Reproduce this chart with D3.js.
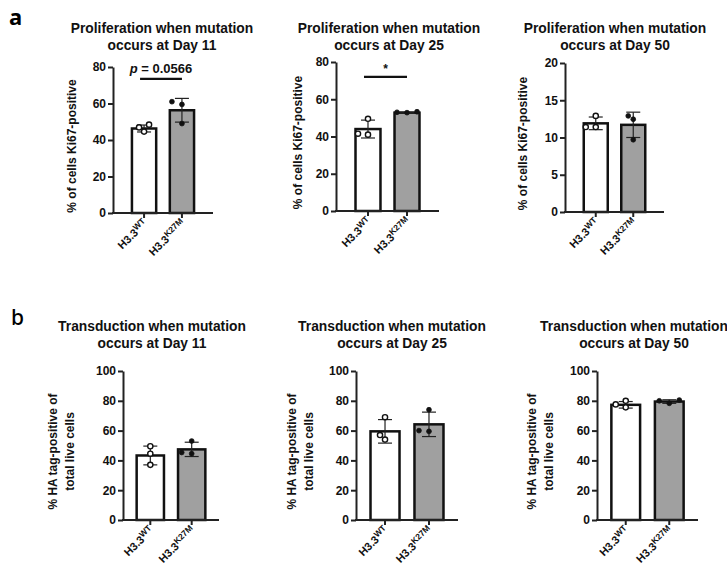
<!DOCTYPE html>
<html>
<head>
<meta charset="utf-8">
<script src="https://cdn.jsdelivr.net/npm/d3@7"></script>
<style>
  body { margin: 0; background: #ffffff; }
  svg { display: block; font-family: "Liberation Sans", Arial, sans-serif; }
</style>
</head>
<body>
<div id="chart"></div>
<script>
// ---- data ----
const groups = ['WT', 'K27M'];
const days = ['Day 11', 'Day 25', 'Day 50'];

// row a: proliferation (% of cells Ki67-positive)
const prolifMax = [80, 80, 20];
const prolifStep = [20, 20, 5];
const prolifMean = [[46.3, 56.3], [44.0, 52.8], [11.9, 11.7]];
const prolifSD = [[1.9, 6.5], [4.8, 0.3], [0.85, 1.7]];
const prolifPoints = [
  [[48.4, 46.9, 44.6], [61.0, 59.5, 49.0]],
  [[49.5, 41.0, 41.5], [53.0, 53.3, 52.8]],
  [[12.9, 11.4, 11.4], [12.9, 12.45, 9.7]]
];
const prolifSigLevel = [73.5, 72, null];
const prolifSigLabel = ['p = 0.0566', '*', null];

// row b: transduction (% HA tag-positive of total live cells)
const transMax = [100, 100, 100];
const transStep = [20, 20, 20];
const transMean = [[43.3, 47.4], [59.5, 64.2], [77.3, 79.5]];
const transSD = [[6.3, 4.8], [7.9, 8.2], [2.2, 1.2]];
const transPoints = [
  [[49.5, 44.5, 37.0], [53.0, 44.5, 45.3]],
  [[69.0, 54.0, 57.0], [74.0, 59.5, 60.0]],
  [[80.0, 75.6, 77.6], [80.5, 80.0, 78.3]]
];

// ---- layout (pixels) ----
const W = 727, H = 569;
const rowA = [
  { x0: 113, x1: 213, yTop: 67, y0: 213, labelX: 72, titleX: 162 },
  { x0: 336, x1: 439, yTop: 62, y0: 211, labelX: 298, titleX: 389 },
  { x0: 565, x1: 664, yTop: 63, y0: 212, labelX: 523, titleX: 615 }
];
const rowB = [
  { x0: 123, x1: 219, yTop: 371, y0: 520, labelX: 61, titleX: 152 },
  { x0: 356, x1: 458, yTop: 371, y0: 520, labelX: 300, titleX: 392 },
  { x0: 597, x1: 698, yTop: 371, y0: 520, labelX: 540, titleX: 634 }
];

const svg = d3.select('#chart').append('svg')
  .attr('width', W).attr('height', H);

// panel letters
svg.append('text').attr('x', 9).attr('y', 25)
  .attr('font-family', 'Noto Sans, sans-serif').attr('font-size', 22).attr('font-weight', 700)
  .text('a');
svg.append('text').attr('x', 11).attr('y', 325)
  .attr('font-family', 'Noto Sans, sans-serif').attr('font-size', 21).attr('font-weight', 500)
  .text('b');

function drawPanel(cfg) {
  const { lay, max, step, means, sds, points, title, titleY, labelLines, pad, sig } = cfg;

  const x = d3.scaleBand().domain(groups)
    .range([lay.x0, lay.x1]).paddingInner(pad[0]).paddingOuter(pad[1]);
  const y = d3.scaleLinear().domain([0, max]).range([lay.y0, lay.yTop]);
  const g = svg.append('g');

  // title
  title.forEach((t, i) => {
    g.append('text').attr('x', lay.titleX).attr('y', titleY + i * 17)
      .attr('text-anchor', 'middle').attr('font-size', 13.8).attr('font-weight', 700)
      .attr('fill', '#111').text(t);
  });

  // y label
  const midY = (lay.y0 + lay.yTop) / 2 + 6;
  labelLines.forEach((t, i) => {
    const lx = lay.labelX + (i - (labelLines.length - 1) / 2) * 17;
    g.append('text')
      .attr('transform', `translate(${lx},${midY}) rotate(-90)`)
      .attr('dy', '0.35em')
      .attr('text-anchor', 'middle').attr('font-size', 12).attr('font-weight', 700)
      .attr('fill', '#111').text(t);
  });

  // bars
  g.selectAll('rect.bar').data(groups).enter().append('rect')
    .attr('x', d => x(d)).attr('width', x.bandwidth())
    .attr('y', (d, i) => y(means[i]))
    .attr('height', (d, i) => lay.y0 - y(means[i]))
    .attr('fill', (d, i) => i === 0 ? '#ffffff' : '#a0a0a0')
    .attr('stroke', '#111').attr('stroke-width', 2.5);

  // error bars (mean +/- SD)
  groups.forEach((gname, i) => {
    const cx = x(gname) + x.bandwidth() / 2;
    const lo = y(means[i] - sds[i]), hi = y(means[i] + sds[i]);
    g.append('line').attr('x1', cx).attr('x2', cx).attr('y1', lo).attr('y2', hi)
      .attr('stroke', '#222').attr('stroke-width', 1.2);
    [lo, hi].forEach(v => {
      g.append('line').attr('x1', cx - 7).attr('x2', cx + 7).attr('y1', v).attr('y2', v)
        .attr('stroke', '#222').attr('stroke-width', 1.2);
    });
  });

  // individual points, spread sideways when they overlap
  groups.forEach((gname, i) => {
    const cx = x(gname) + x.bandwidth() / 2;
    const placed = [];
    const order = points[i].map((v, k) => k).sort((a, b) => points[i][a] - points[i][b]);
    order.forEach(k => {
      const py = y(points[i][k]);
      const cands = [0, -5, 5, -10, 10];
      let ox = 0;
      for (const c of cands) {
        if (placed.every(p => Math.hypot(p[0] - c, p[1] - py) >= 6)) { ox = c; break; }
      }
      placed.push([ox, py]);
    });
    g.selectAll(null).data(placed).enter().append('circle')
      .attr('cx', d => cx + d[0]).attr('cy', d => d[1])
      .attr('r', i === 0 ? 2.6 : 2.4)
      .attr('fill', i === 0 ? '#ffffff' : '#111')
      .attr('stroke', '#111').attr('stroke-width', i === 0 ? 1.4 : 0.8);
  });

  // y axis
  const yAxis = d3.axisLeft(y).tickValues(d3.range(0, max + 1, step))
    .tickSize(5).tickSizeOuter(0).tickPadding(2);
  const ya = g.append('g').attr('transform', `translate(${lay.x0},0)`).call(yAxis);
  ya.select('.domain').attr('stroke', '#222').attr('stroke-width', 2);
  ya.selectAll('.tick line').attr('stroke', '#222').attr('stroke-width', 2);
  ya.selectAll('.tick text').attr('font-size', 12).attr('font-weight', 700)
    .attr('fill', '#111').attr('font-family', 'Liberation Sans, Arial, sans-serif');

  // x axis
  const xAxis = d3.axisBottom(x).tickSize(5).tickSizeOuter(0).tickFormat('');
  const xa = g.append('g').attr('transform', `translate(0,${lay.y0})`).call(xAxis);
  xa.select('.domain').attr('stroke', '#222').attr('stroke-width', 2)
    .attr('d', `M${lay.x0 - 1},0H${lay.x1}`);
  xa.selectAll('.tick line').attr('stroke', '#222').attr('stroke-width', 2);

  // rotated group labels with superscript
  groups.forEach(gname => {
    const cx = x(gname) + x.bandwidth() / 2;
    const t = g.append('text')
      .attr('transform', `translate(${cx + 4},${lay.y0 + 11}) rotate(-45)`)
      .attr('text-anchor', 'end').attr('font-size', 11).attr('font-weight', 700)
      .attr('fill', '#111');
    t.append('tspan').text('H3.3');
    t.append('tspan').attr('font-size', 8.5).attr('dy', -3.5).text(gname);
  });

  // significance bracket
  if (sig && sig.level != null) {
    const c1 = x(groups[0]) + x.bandwidth() / 2, c2 = x(groups[1]) + x.bandwidth() / 2;
    const ly = y(sig.level);
    g.append('line').attr('x1', c1 - 4).attr('x2', c2).attr('y1', ly).attr('y2', ly)
      .attr('stroke', '#111').attr('stroke-width', 2.4);
    if (sig.label === '*') {
      g.append('text').attr('x', (c1 + c2) / 2 - 2).attr('y', ly - 4)
        .attr('text-anchor', 'middle').attr('font-size', 12).attr('font-weight', 700)
        .attr('fill', '#111').text('*');
    } else {
      const t = g.append('text').attr('x', (c1 + c2) / 2 - 2).attr('y', ly - 6)
        .attr('text-anchor', 'middle').attr('font-size', 13).attr('font-weight', 700)
        .attr('fill', '#111');
      t.append('tspan').attr('font-style', 'italic').text('p');
      t.append('tspan').text(sig.label.slice(1));
    }
  }
}

days.forEach((day, i) => {
  drawPanel({
    lay: rowA[i], max: prolifMax[i], step: prolifStep[i],
    means: prolifMean[i], sds: prolifSD[i], points: prolifPoints[i],
    title: ['Proliferation when mutation', 'occurs at ' + day], titleY: 33,
    labelLines: ['% of cells Ki67-positive'], pad: [0.36, 0.5],
    sig: { level: prolifSigLevel[i], label: prolifSigLabel[i] }
  });
  drawPanel({
    lay: rowB[i], max: transMax[i], step: transStep[i],
    means: transMean[i], sds: transSD[i], points: transPoints[i],
    title: ['Transduction when mutation', 'occurs at ' + day], titleY: 331,
    labelLines: ['% HA tag-positive of', 'total live cells'], pad: [0.34, 0.33],
    sig: null
  });
});
</script>
</body>
</html>
